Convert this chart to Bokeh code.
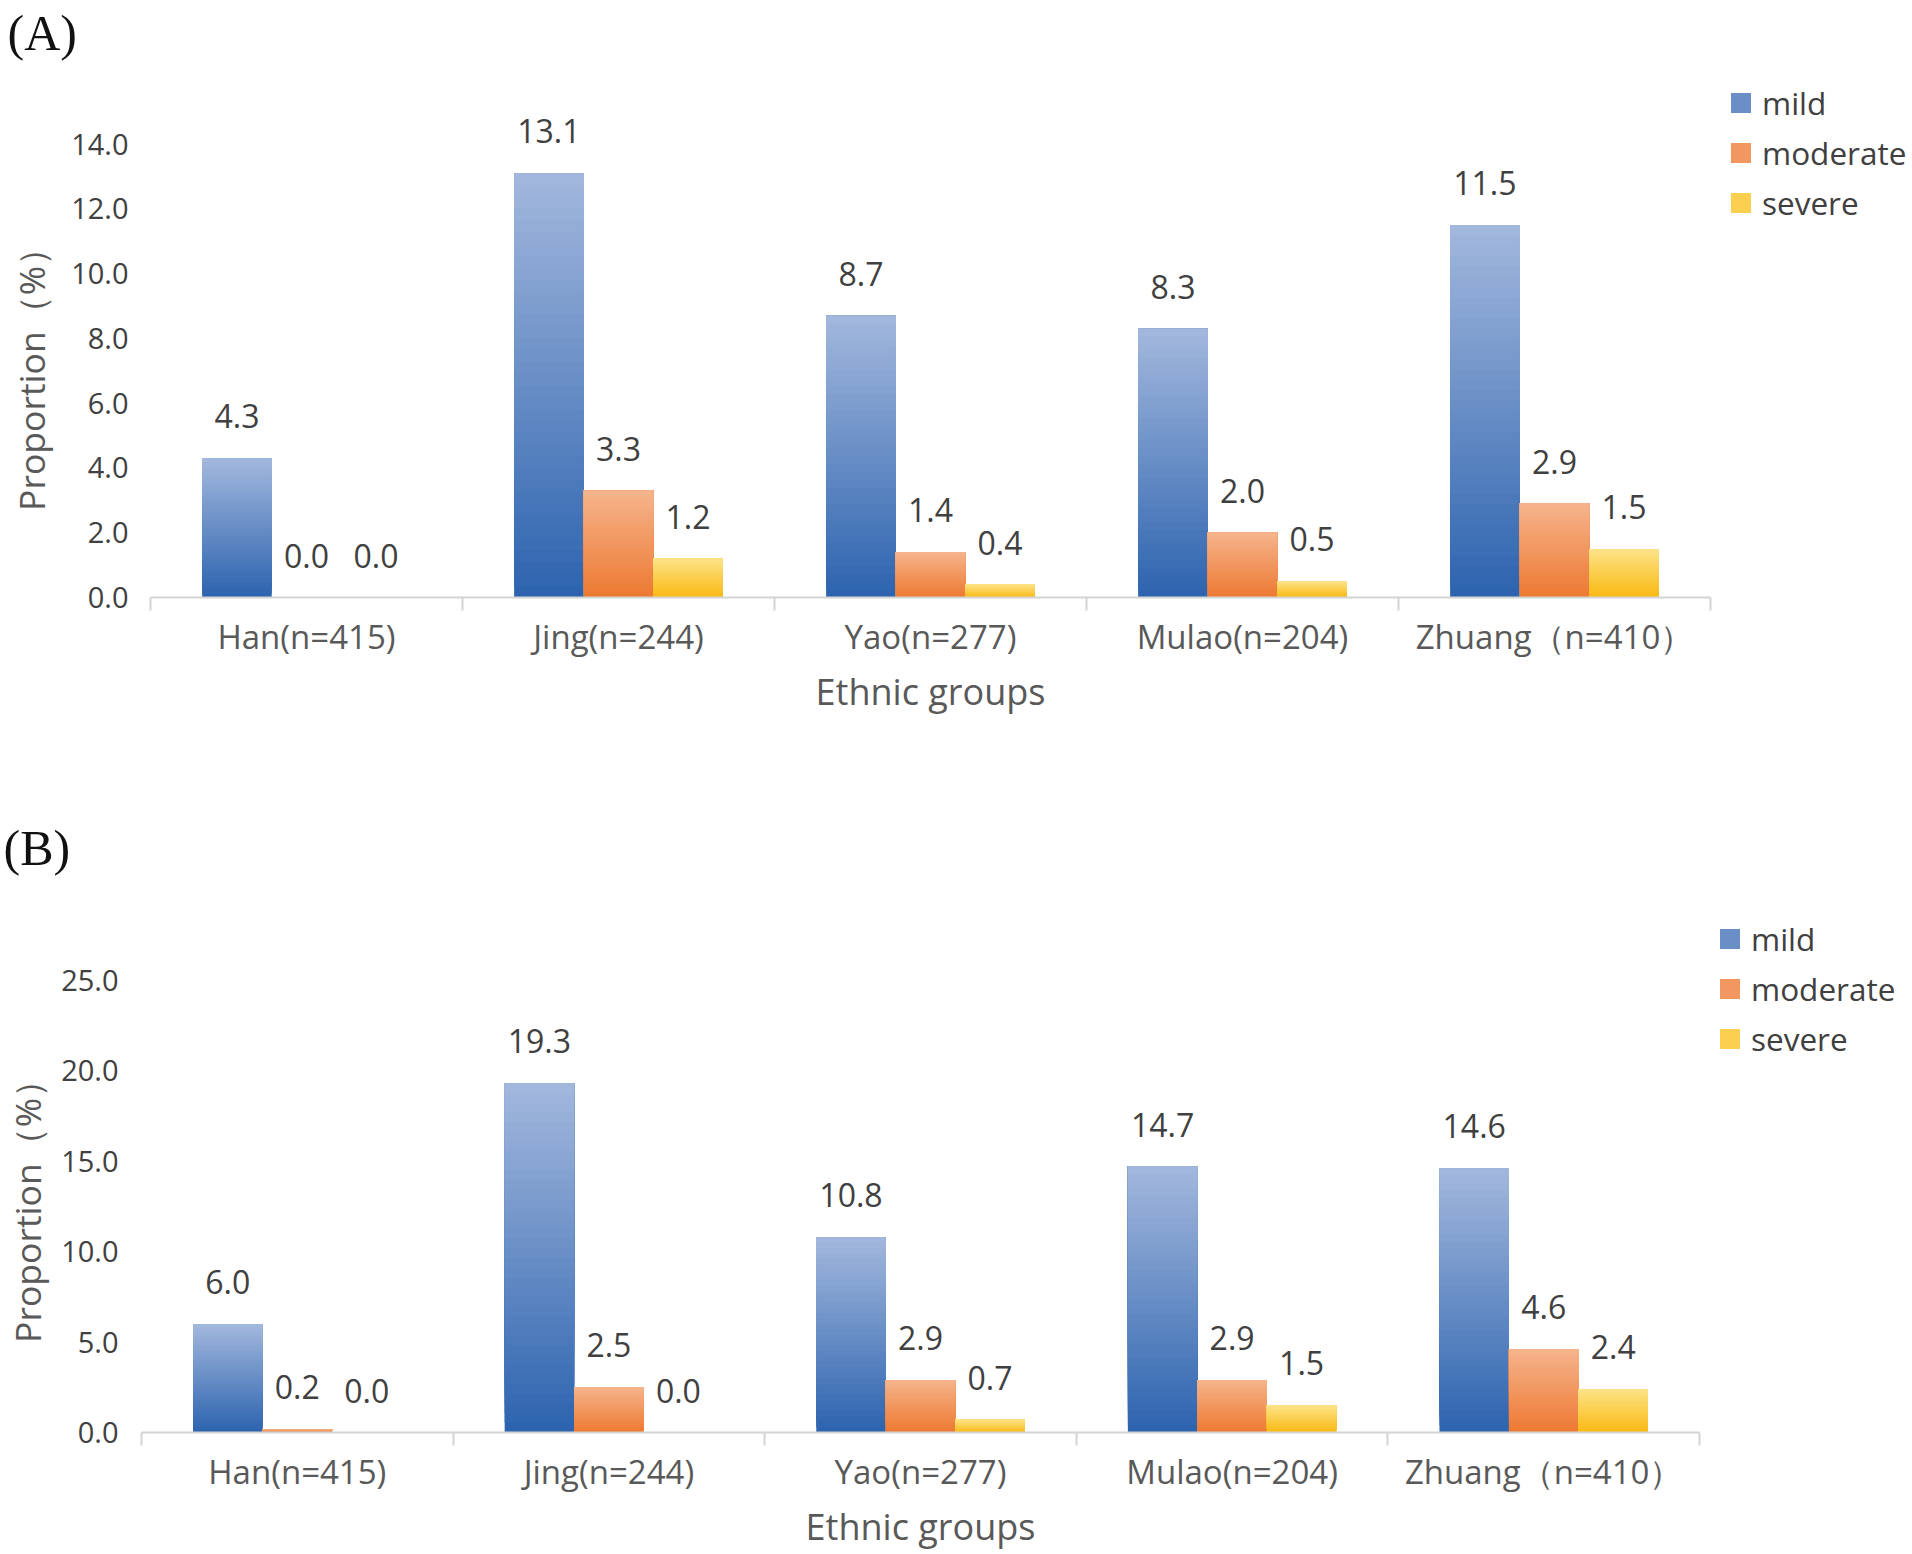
import math
from bokeh.plotting import figure
from bokeh.models import (FactorRange, Range1d, LinearAxis, CategoricalAxis, FixedTicker,
                          PrintfTickFormatter, Legend, LegendItem, ColumnDataSource)
from bokeh.transform import dodge
from bokeh.core.properties import value
from bokeh.embed import file_html
from bokeh.resources import INLINE

# ---------------- data ----------------
groups = ["Han(n=415)", "Jing(n=244)", "Yao(n=277)", "Mulao(n=204)", "Zhuang\uff08n=410\uff09"]
series = ["mild", "moderate", "severe"]

a_mild = [4.3, 13.1, 8.7, 8.3, 11.5]
a_moderate = [0.0, 3.3, 1.4, 2.0, 2.9]
a_severe = [0.0, 1.2, 0.4, 0.5, 1.5]

b_mild = [6.0, 19.3, 10.8, 14.7, 14.6]
b_moderate = [0.2, 2.5, 2.9, 2.9, 4.6]
b_severe = [0.0, 0.0, 0.7, 1.5, 2.4]

a_ticks = [0, 2, 4, 6, 8, 10, 12, 14]
b_ticks = [0, 5, 10, 15, 20, 25]

# ---------------- style ----------------
SANS = "Open Sans"
SERIF = "Liberation Serif"
grad = {  # (top colour, bottom colour)
    "mild": ((163, 184, 221), (44, 99, 174)),
    "moderate": ((246, 180, 140), (237, 121, 50)),
    "severe": ((253, 227, 136), (249, 185, 18)),
}
N_STEPS = 36
BAR_W = 0.223
OFFS = [-0.223, 0.0, 0.223]
TOTAL_W = 1912
YTITLE = "Proportion\uff08%\uff09" + "\u2003\u2003\u2009"


def hexcol(c):
    return "#%02x%02x%02x" % tuple(int(round(v)) for v in c)


def mix(bottom, top, t):
    return hexcol([b + (tp - b) * t for b, tp in zip(bottom, top)])


def make_panel(tag, tag_left, tag_standoff, vals, ticks, y_end, frame_w, frame_h,
               b_left, b_top, b_bottom, legend_loc, label_standoff_y, ytitle_standoff):
    p = figure(x_range=FactorRange(factors=groups, range_padding=0, factor_padding=0),
               y_range=Range1d(0, y_end),
               frame_width=frame_w, frame_height=frame_h,
               min_border_left=b_left, min_border_right=TOTAL_W - b_left - frame_w,
               min_border_top=b_top, min_border_bottom=b_bottom,
               x_axis_location=None, output_backend="svg", toolbar_location=None)
    p.outline_line_color = None
    p.xgrid.visible = False
    p.ygrid.visible = False
    p.background_fill_color = "white"
    p.border_fill_color = "white"

    # panel tag as title
    p.title.text = tag
    p.title.align = "left"
    p.title.offset = -(b_left - tag_left)
    p.title.standoff = tag_standoff
    p.title.vertical_align = "top"
    p.title.text_font = SERIF
    p.title.text_font_size = "50px"
    p.title.text_font_style = "normal"
    p.title.text_color = "#111111"

    # y axis
    ya = p.yaxis[0]
    ya.ticker = FixedTicker(ticks=ticks, minor_ticks=[])
    ya.formatter = PrintfTickFormatter(format="%.1f")
    ya.axis_line_color = None
    ya.major_tick_line_color = None
    ya.minor_tick_line_color = None
    ya.major_tick_out = 0
    ya.major_tick_in = 0
    ya.major_label_standoff = label_standoff_y
    ya.major_label_text_font = SANS
    ya.major_label_text_font_size = "29px"
    ya.major_label_text_color = "#404040"
    ya.axis_label = YTITLE
    ya.axis_label_standoff = ytitle_standoff
    ya.axis_label_text_font = SANS
    ya.axis_label_text_font_size = "35.5px"
    ya.axis_label_text_font_style = "normal"
    ya.axis_label_text_color = "#595959"

    # x axis: line with boundary ticks
    ax1 = LinearAxis(ticker=FixedTicker(ticks=list(range(len(groups) + 1)), minor_ticks=[]),
                     axis_line_color="#d4d4d4", axis_line_width=2,
                     major_tick_line_color="#d4d4d4", major_tick_line_width=2,
                     major_tick_out=13, major_tick_in=0, minor_tick_line_color=None,
                     major_label_text_font_size="1px", major_label_text_alpha=0,
                     major_label_standoff=0)
    p.add_layout(ax1, "below")
    # x axis: category labels and title
    ax2 = CategoricalAxis(axis_line_color=None, major_tick_line_color=None,
                          minor_tick_line_color=None, major_tick_out=0, major_tick_in=0,
                          major_label_standoff=3,
                          major_label_text_font=SANS, major_label_text_font_size="33px",
                          major_label_text_color="#595959",
                          axis_label="Ethnic groups", axis_label_standoff=5,
                          axis_label_text_font=SANS, axis_label_text_font_size="36px",
                          axis_label_text_color="#595959", axis_label_text_font_style="normal")
    p.add_layout(ax2, "below")

    items = []
    for s, off in zip(series, OFFS):
        v = vals[s]
        data = dict(group=groups, value=v, label=["%.1f" % x for x in v])
        for k in range(N_STEPS):
            data["b%d" % k] = [x * k / N_STEPS for x in v]
        src = ColumnDataSource(data)
        top_c, bot_c = grad[s]
        mid_r = None
        for k in range(N_STEPS):
            r = p.vbar(x=dodge("group", off, range=p.x_range), bottom="b%d" % k, top="value",
                       width=BAR_W, source=src, line_color=None,
                       fill_color=mix(bot_c, top_c, (k + 0.5) / N_STEPS))
            if k == N_STEPS // 2:
                mid_r = r
        items.append(LegendItem(label=s, renderers=[mid_r]))
        p.text(x=dodge("group", off, range=p.x_range), y="value", text="label", source=src,
               y_offset=-42, text_align="center", text_baseline="middle",
               text_font=value(SANS), text_font_size="32px", text_color="#404040")

    legend = Legend(items=items, location=legend_loc, orientation="vertical",
                    glyph_width=25, glyph_height=25, label_height=30, spacing=7,
                    padding=0, margin=0, label_standoff=9,
                    border_line_color=None, background_fill_alpha=0,
                    label_text_font=SANS, label_text_font_size="31.5px",
                    label_text_color="#404040", label_text_baseline="middle")
    p.add_layout(legend, "right")
    return p


pA = make_panel("(A)", 7, 7, {"mild": a_mild, "moderate": a_moderate, "severe": a_severe},
                a_ticks, 16.396, 1560, 531, 150, 66, 203,
                legend_loc=(18, 373), label_standoff_y=22, ytitle_standoff=13)
pB = make_panel("(B)", 2, 36, {"mild": b_mild, "moderate": b_moderate, "severe": b_severe},
                b_ticks, 29.685, 1558, 537, 140, 95, 122,
                legend_loc=(18, 372), label_standoff_y=23, ytitle_standoff=7)

open("out.html", "w").write(file_html([pA, pB], INLINE))
